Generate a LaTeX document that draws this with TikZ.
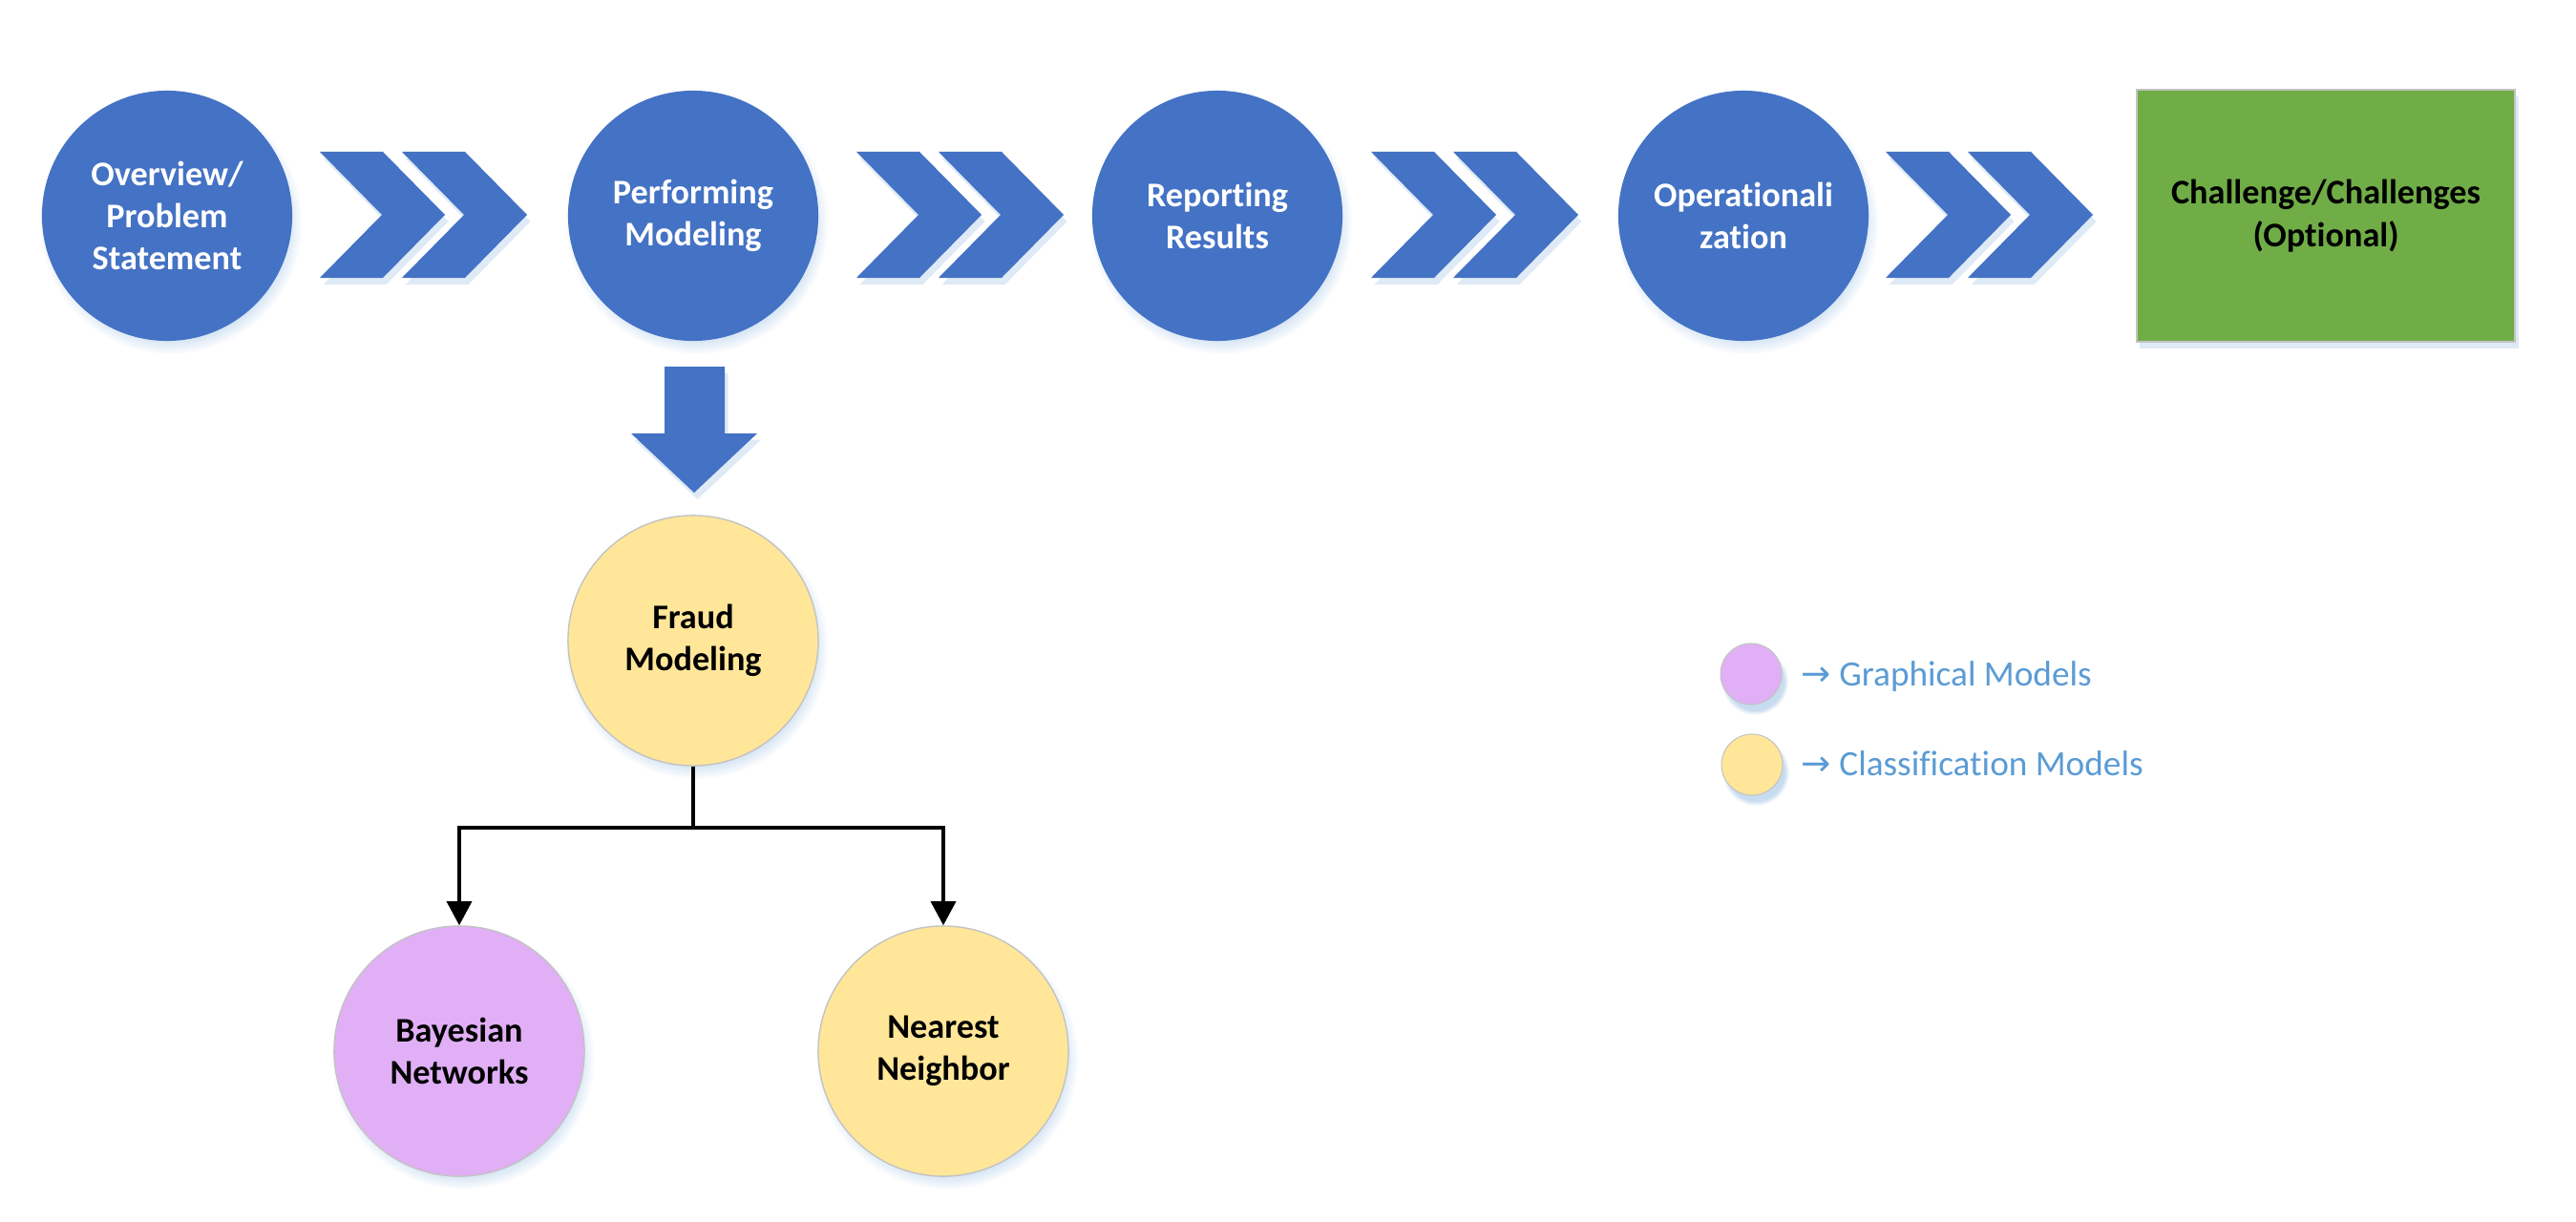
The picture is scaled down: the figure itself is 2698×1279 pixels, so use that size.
\documentclass[tikz,border=0pt]{standalone}
\usepackage{fontspec}
\setmainfont{Carlito}[Ligatures=NoCommon]
\newfontfamily\arrowfont{DejaVu Sans}
\usetikzlibrary{arrows.meta,positioning,shadows}
\definecolor{stepblue}{RGB}{68,114,196}
\definecolor{optgreen}{RGB}{112,173,71}
\definecolor{clsyellow}{RGB}{255,230,153}
\definecolor{grphpurple}{RGB}{225,175,245}
\definecolor{legendtxt}{RGB}{91,155,213}
\definecolor{rimgray}{RGB}{195,195,195}
\definecolor{glow}{RGB}{200,220,240}
\tikzset{
  stage/.style   ={circle, minimum size=2.62cm, inner sep=0pt, fill=stepblue,
                   text=white, align=center, font=\bfseries\fontsize{10.3}{12.6}\selectfont,
                   circular drop shadow={fill=glow, shadow scale=1.05,
                   shadow xshift=1pt, shadow yshift=-2pt}},
  model/.style   ={stage, draw=rimgray, line width=0.4pt, text=black},
  cls/.style     ={model, fill=clsyellow},
  grph/.style    ={model, fill=grphpurple},
  optbox/.style  ={rectangle, minimum width=3.96cm, minimum height=2.64cm,
                   fill=optgreen, draw=rimgray, line width=0.4pt, align=center,
                   font=\bfseries\fontsize{10.3}{12.6}\selectfont,
                   drop shadow={fill=glow, opacity=0.6, shadow xshift=1pt, shadow yshift=-2pt}},
  key/.style     ={circle, minimum size=0.64cm, inner sep=0pt, draw=rimgray,
                   line width=0.3pt, circular drop shadow={fill=glow, shadow scale=1.1,
                   shadow xshift=1pt, shadow yshift=-2pt}},
  keytxt/.style  ={anchor=base west, inner sep=0pt, text=legendtxt,
                   font=\fontsize{10.6}{12.5}\selectfont},
  chevfill/.style={fill=stepblue, drop shadow={fill=glow, opacity=0.6,
                   shadow xshift=1pt, shadow yshift=-2pt}},
  branch/.style  ={-{Triangle[length=2.5mm,width=2.6mm]}, line width=0.9pt},
  chev/.pic      ={\fill[chevfill] (0,0) -- (66,0) -- (131,66) -- (66,132)
                   -- (0,132) -- (65,66) -- cycle;},
}
\begin{document}
\begin{tikzpicture}[x=0.01cm, y=-0.01cm]
    \useasboundingbox (0,0) rectangle (2698,1279);

    % main pipeline
    \node[stage] (s1) at (175,226) {Overview/\\Problem\\Statement};
    \node[stage] (s2) at (726,226) {Performing\\Modeling};
    \node[stage] (s3) at (1275,226) {Reporting\\Results};
    \node[stage] (s4) at (1826,226) {Operationali\\zation};
    \node[optbox] (opt) at (2436,226) {Challenge/Challenges\\(Optional)};

    \foreach \p in {335,897,1436,1975} {
        \pic at (\p,159) {chev};
        \pic at (\p+86,159) {chev};
    }

    % big arrow down to the model tree
    \fill[chevfill] (696,384) -- (759,384) -- (759,454) -- (793,454)
        -- (727,516) -- (661,454) -- (696,454) -- cycle;

    \node[cls] (fraud) at (726,671) {Fraud\\Modeling};
    \node[grph] (bayes) at (481,1101) {Bayesian\\Networks};
    \node[cls] (near) at (988,1101) {Nearest\\Neighbor};

    \coordinate (split) at (726,867);
    \draw[line width=0.9pt] (fraud.south) -- (split);
    \draw[branch] (split) -| (bayes.north);
    \draw[branch] (split) -| (near.north);

    % legend
    \node[key, fill=grphpurple] (kg) at (1834,706) {};
    \node[key, fill=clsyellow] (kc) at (1835,801) {};
    \node[keytxt] (tg) at (1886,718) {{\arrowfont →} Graphical Models};
    \node[keytxt] (tc) at (1886,812) {{\arrowfont →} Classification Models};
\end{tikzpicture}
\end{document}
